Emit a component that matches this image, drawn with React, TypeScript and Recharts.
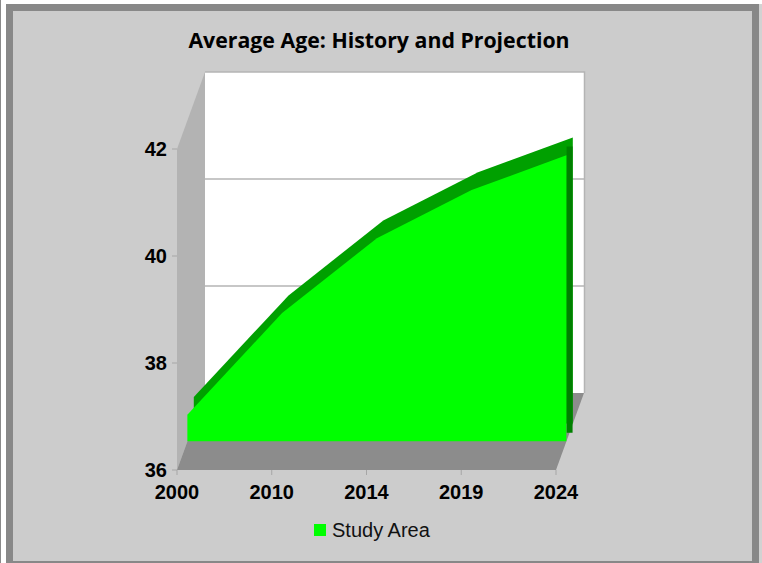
import { AreaChart, Area, XAxis, YAxis, ReferenceLine } from "recharts";
import type { ReactNode } from "react";

const chartTitle = "Average Age: History and Projection";
const seriesName = "Study Area";
const years: string[] = ["2000", "2010", "2014", "2019", "2024"];
const avgAge: number[] = [36.5, 38.4, 39.8, 40.7, 41.35];
const yTicks: number[] = [36, 38, 40, 42];

const data = years.map((year, i) => ({ year, age: avgAge[i] }));

const W = 762;
const H = 563;
// front plane of the 3d box (plot area of the axes)
const LEFT = 177;
const RIGHT = 556;
const TOP = 149;
const BOTTOM = 470;
// depth vector, front plane -> back wall
const DX = 28;
const DY = -77;
// depth of the area slab, as fraction of the box depth
const AREA_FRONT = 0.37;
const AREA_BACK = 0.6;

const Y_MIN = yTicks[0];
const Y_MAX = yTicks[yTicks.length - 1];
const LAST = years.length - 1;

const GREEN = "#00ff00";
const GREEN_TOP = "#00a000";
const GREEN_SIDE = "#008000";

const tickFont = {
  fontFamily: "'Liberation Sans', Arial, sans-serif",
  fontSize: 20,
  fontWeight: 700,
  fill: "#000",
};

const yPix = (v: number) => BOTTOM - ((v - Y_MIN) / (Y_MAX - Y_MIN)) * (BOTTOM - TOP);

const marginAt = (t: number) => ({
  left: LEFT + DX * t,
  right: W - RIGHT - DX * t,
  top: TOP + DY * t,
  bottom: H - BOTTOM - DY * t,
});

function Layer({ t, children }: { t: number; children: ReactNode }) {
  return (
    <div style={{ position: "absolute", left: 0, top: 0 }}>
      <AreaChart width={W} height={H} data={data} margin={marginAt(t)}>
        <XAxis dataKey="year" scale="point" hide />
        <YAxis domain={[Y_MIN, Y_MAX]} allowDataOverflow hide />
        {children}
      </AreaChart>
    </div>
  );
}

function Walls() {
  const bx = LEFT + DX;
  const by = TOP + DY;
  return (
    <svg width={W} height={H} style={{ position: "absolute", left: 0, top: 0 }}>
      {/* left side wall */}
      <polygon
        points={`${LEFT},${TOP} ${bx},${by} ${bx},${BOTTOM + DY} ${LEFT},${BOTTOM}`}
        fill="#b3b3b3"
      />
      {/* back wall */}
      <rect x={bx} y={by} width={RIGHT - LEFT} height={BOTTOM - TOP} fill="#fff" />
      {yTicks.slice(1).map((v) => (
        <line key={v} x1={bx} x2={RIGHT + DX} y1={yPix(v) + DY} y2={yPix(v) + DY} stroke="#b4b4b4" strokeWidth={1.5} />
      ))}
      <line x1={RIGHT + DX + 0.5} x2={RIGHT + DX + 0.5} y1={by - 0.75} y2={BOTTOM + DY} stroke="#b4b4b4" strokeWidth={1.5} />
      {/* floor */}
      <polygon
        points={`${LEFT},${BOTTOM} ${RIGHT},${BOTTOM} ${RIGHT + DX},${BOTTOM + DY} ${bx},${BOTTOM + DY}`}
        fill="#8c8c8c"
      />
    </svg>
  );
}

export default function App() {
  return (
    <div style={{ position: "absolute", left: 0, top: 0, width: W, height: H, overflow: "hidden", background: "#fff" }}>
      <div style={{ position: "absolute", left: 0, top: 0, width: 1, height: H, background: "#8a8a8a" }} />
      <div style={{ position: "absolute", left: 759, top: 4, width: 3, height: H, background: "#d2d2d2" }} />
      <div
        style={{
          position: "absolute",
          left: 6,
          top: 4,
          width: 753,
          height: 564,
          boxSizing: "border-box",
          border: "7px solid #888888",
          background: "#cccccc",
        }}
      />
      <div
        style={{
          position: "absolute",
          left: 0,
          top: 29,
          width: 758,
          textAlign: "center",
          fontFamily: "'Open Sans', sans-serif",
          fontWeight: 700,
          fontSize: 21.3,
          lineHeight: "22px",
          color: "#000",
        }}
      >
        {chartTitle}
      </div>

      <Walls />

      {/* axes on the front plane */}
      <div style={{ position: "absolute", left: 0, top: 0 }}>
        <AreaChart
          width={W}
          height={H}
          data={data}
          margin={{ left: LEFT - 60, right: W - RIGHT, top: TOP, bottom: H - BOTTOM - 40 }}
        >
          <XAxis
            dataKey="year"
            scale="point"
            height={40}
            interval={0}
            axisLine={false}
            tickLine={{ stroke: "#a6a6a6" }}
            tickSize={5}
            tickMargin={10}
            tick={tickFont}
          />
          <YAxis
            type="number"
            domain={[Y_MIN, Y_MAX]}
            allowDataOverflow
            ticks={yTicks}
            width={60}
            interval={0}
            axisLine={false}
            tickLine={{ stroke: "#a6a6a6" }}
            tickSize={5}
            tickMargin={5}
            tick={tickFont}
          />
          <Area dataKey="age" fill="none" stroke="none" dot={false} activeDot={false} isAnimationActive={false} />
        </AreaChart>
      </div>

      {/* top face of the slab */}
      <Layer t={AREA_BACK}>
        <Area dataKey="age" type="linear" fill={GREEN_TOP} fillOpacity={1} stroke="none" dot={false} isAnimationActive={false} />
      </Layer>

      {/* right end face */}
      <Layer t={(AREA_FRONT + AREA_BACK) / 2}>
        <ReferenceLine
          segment={[
            { x: years[LAST], y: Y_MIN },
            { x: years[LAST], y: avgAge[LAST] },
          ]}
          stroke={GREEN_SIDE}
          strokeWidth={6}
        />
      </Layer>

      {/* front face */}
      <Layer t={AREA_FRONT}>
        <Area dataKey="age" name={seriesName} type="linear" fill={GREEN} fillOpacity={1} stroke="none" dot={false} isAnimationActive={false} />
      </Layer>

      {/* legend */}
      <div
        style={{
          position: "absolute",
          left: 314,
          top: 519.5,
          display: "flex",
          alignItems: "center",
          fontFamily: "'Liberation Sans', Arial, sans-serif",
          fontSize: 20,
          lineHeight: "20px",
          color: "#111",
        }}
      >
        <span style={{ display: "inline-block", width: 12, height: 12, background: GREEN, marginRight: 6 }} />
        {seriesName}
      </div>
    </div>
  );
}
